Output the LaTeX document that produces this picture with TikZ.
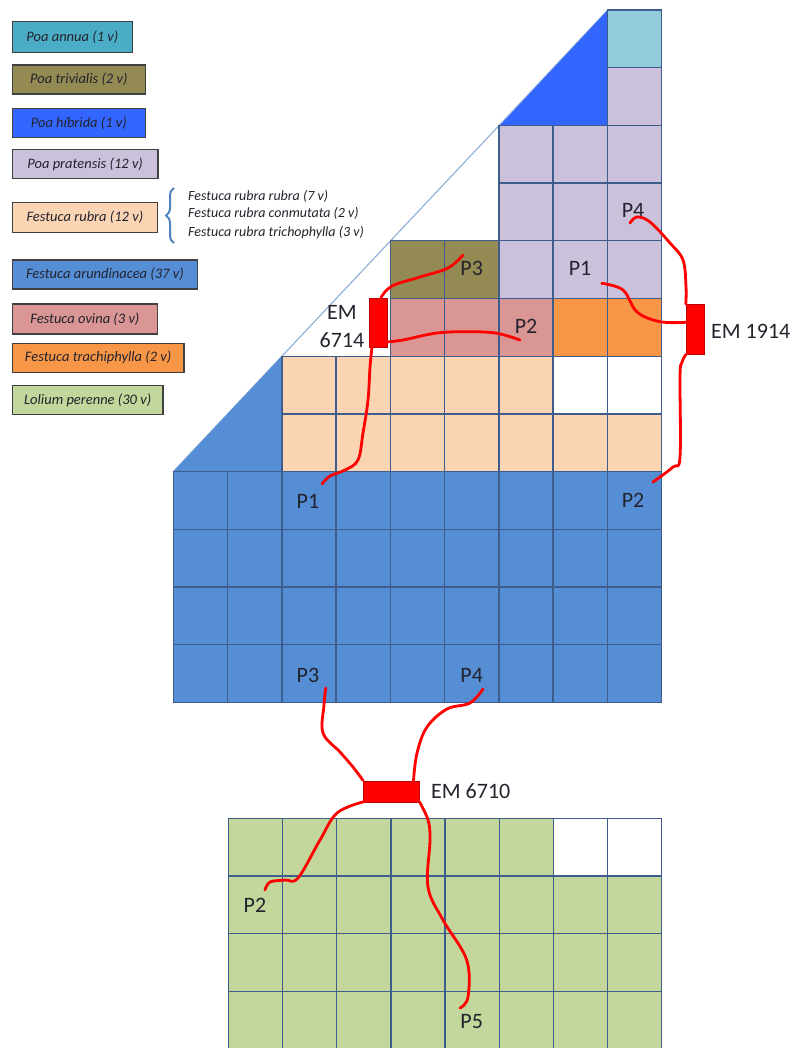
\documentclass[tikz,border=0pt]{standalone}
\usepackage{fontspec}
\setmainfont{Carlito}
\usetikzlibrary{decorations.pathreplacing}
\definecolor{cAnnua}{RGB}{75,172,198}
\definecolor{cAnnuaL}{RGB}{146,205,220}
\definecolor{cTriv}{RGB}{148,138,84}
\definecolor{cHib}{RGB}{51,102,255}
\definecolor{cPrat}{RGB}{204,193,218}
\definecolor{cRubra}{RGB}{251,212,180}
\definecolor{cArund}{RGB}{85,142,213}
\definecolor{cOvina}{RGB}{217,150,148}
\definecolor{cTrach}{RGB}{247,150,70}
\definecolor{cLol}{RGB}{195,214,155}
\definecolor{gridc}{RGB}{62,92,140}
\definecolor{hypo}{RGB}{149,179,215}
\definecolor{wirec}{RGB}{255,0,0}
\definecolor{txt}{RGB}{35,35,45}
\definecolor{legborder}{RGB}{64,64,64}
\definecolor{brc}{RGB}{79,129,189}
\tikzset{
  cellst/.style={draw=gridc, line width=1.4pt},
  legbox/.style={draw=legborder, line width=1.3pt, anchor=north west, inner sep=0pt,
    font=\fontsize{14.5}{16}\selectfont\itshape, text=txt},
  subtxt/.style={anchor=west, inner sep=0pt, font=\fontsize{14}{16}\selectfont\itshape, text=txt},
  lab/.style={inner sep=0pt, font=\fontsize{22}{28}\selectfont, text=txt},
  emrect/.style={rectangle, fill=wirec, draw=red!75!black, line width=0.4pt, inner sep=0pt},
  wire/.style={draw=wirec, line width=2.8pt, line cap=round, line join=round}
}
\newcommand\gcell[3]{\path[cellst, fill=#3] ({173.3+54.27*#1},{10+57.7*#2}) rectangle ++(54.27,57.7);}
\newcommand\lcell[3]{\path[cellst, fill=#3] ({228.3+54.18*#1},{818.3+57.7*#2}) rectangle ++(54.18,57.7);}
\begin{document}
\begin{tikzpicture}[x=1pt,y=-1pt]
\useasboundingbox (0,0) rectangle (796,1048);
% legend
\node[legbox, fill=cAnnua, minimum width=120pt, minimum height=31pt] (lg1) at (11.7,20.7) {Poa annua (1 v)};
\node[legbox, fill=cTriv, minimum width=133pt, minimum height=29pt] (lg2) at (11.7,64.3) {Poa trivialis (2 v)};
\node[legbox, fill=cHib, minimum width=133pt, minimum height=29pt] (lg3) at (11.7,107.7) {Poa híbrida (1 v)};
\node[legbox, fill=cPrat, minimum width=145.6pt, minimum height=29pt] (lg4) at (11.7,149) {Poa pratensis (12 v)};
\node[legbox, fill=cRubra, minimum width=145pt, minimum height=30pt] (lg5) at (11.7,201.7) {Festuca rubra (12 v)};
\node[legbox, fill=cArund, minimum width=185pt, minimum height=29pt] (lg6) at (11.7,259.3) {Festuca arundinacea (37 v)};
\node[legbox, fill=cOvina, minimum width=145pt, minimum height=30pt] (lg7) at (11.7,303.3) {Festuca ovina (3 v)};
\node[legbox, fill=cTrach, minimum width=171.6pt, minimum height=29pt] (lg8) at (11.7,342.7) {Festuca trachiphylla (2 v)};
\node[legbox, fill=cLol, minimum width=150.6pt, minimum height=29pt] (lg9) at (11.7,385) {Lolium perenne (30 v)};
% brace and sub-species
\draw[brc, line width=2pt, decorate, decoration={brace, amplitude=8pt, aspect=0.5}] (174,243) -- (174,188);
\node[subtxt] (s1) at (188,196) {Festuca rubra rubra (7 v)};
\node[subtxt] (s2) at (188,213.7) {Festuca rubra conmutata (2 v)};
\node[subtxt] (s3) at (188,232.3) {Festuca rubra trichophylla (3 v)};
% hypotenuse and triangles
\draw[hypo, line width=1.2pt] (607.8,10) -- (173.3,471.6);
\fill[cArund] (173.3,471.6) -- (281.8,356.2) -- (281.8,471.6) -- cycle;
\fill[cHib] (499.9,125.4) -- (607.8,10) -- (607.8,125.4) -- cycle;
% upper grid
\gcell{8}{0}{cAnnuaL}
\gcell{8}{1}{cPrat}
\foreach \c in {6,7,8} {\gcell{\c}{2}{cPrat}\gcell{\c}{3}{cPrat}\gcell{\c}{4}{cPrat}}
\foreach \c in {4,5} {\gcell{\c}{4}{cTriv}}
\foreach \c in {4,5,6} {\gcell{\c}{5}{cOvina}}
\foreach \c in {7,8} {\gcell{\c}{5}{cTrach}}
\foreach \c in {2,...,6} {\gcell{\c}{6}{cRubra}}
\foreach \c in {7,8} {\gcell{\c}{6}{white}}
\foreach \c in {2,...,8} {\gcell{\c}{7}{cRubra}}
\foreach \r in {8,...,11} {\foreach \c in {0,...,8} {\gcell{\c}{\r}{cArund}}}
% lower grid
\foreach \c in {0,...,5} {\lcell{\c}{0}{cLol}}
\foreach \c in {6,7} {\lcell{\c}{0}{white}}
\foreach \r in {1,2,3} {\foreach \c in {0,...,7} {\lcell{\c}{\r}{cLol}}}
% labels
\node[lab] (p3a) at (471.7,268) {P3};
\node[lab] (p2a) at (526,326.7) {P2};
\node[lab] (p1a) at (580,268) {P1};
\node[lab] (p4a) at (633,210) {P4};
\node[lab] (p1b) at (308,501.7) {P1};
\node[lab] (p2b) at (633,500) {P2};
\node[lab] (p3b) at (308,675) {P3};
\node[lab] (p4b) at (471.7,675) {P4};
\node[lab] (p2c) at (255,905) {P2};
\node[lab] (p5c) at (471.7,1021.7) {P5};
% EM nodes
\node[emrect, minimum width=18pt, minimum height=49pt] (em6714) at (378,322.2) {};
\node[emrect, minimum width=18pt, minimum height=50pt] (em1914) at (695,329.3) {};
\node[emrect, minimum width=56pt, minimum height=21pt] (em6710) at (391.3,791.2) {};
\node[lab, align=center] (em6714l) at (342,327) {EM\\6714};
\node[lab, anchor=west] (em1914l) at (711,331.7) {EM 1914};
\node[lab, anchor=west] (em6710l) at (431,790.7) {EM 6710};
% wire ends
\coordinate (w6714a) at (463,255);
\coordinate (w6714b) at (520,340);
\coordinate (w6714c) at (322,484);
\coordinate (w1914a) at (630,223);
\coordinate (w1914b) at (601.7,283.3);
\coordinate (w1914c) at (653,482);
\coordinate (w6710a) at (325.7,688);
\coordinate (w6710b) at (483,689);
\coordinate (w6710c) at (265,890);
\coordinate (w6710d) at (460,1008);
% wires EM 6714
\draw[wire] plot[smooth, tension=0.6] coordinates {([xshift=3pt]em6714.north) (392,286) (420,277) (448,268) (w6714a)};
\draw[wire] plot[smooth, tension=0.6] coordinates {([yshift=5pt]em6714.south east) (403,340) (437,333) (470,331.7) (497,333.3) (w6714b)};
\draw[wire] plot[smooth, tension=0.6] coordinates {([xshift=-6pt]em6714.south) (370,367) (368,400) (363,433) (358,460) (345,470) (330,476) (w6714c)};
% wires EM 1914
\draw[wire] plot[smooth, tension=0.6] coordinates {(em1914.north west) (686,287) (683,260) (670,243) (650,222) (637,217) (w1914a)};
\draw[wire] plot[smooth, tension=0.6] coordinates {([yshift=7pt]em1914.west) (660,321.7) (637,312) (623,290) (w1914b)};
\draw[wire] plot[smooth, tension=0.6] coordinates {(em1914.south west) (681.7,363) (680,377) (680,457) (673,467) (w1914c)};
% wires EM 6710
\draw[wire] plot[smooth, tension=0.6] coordinates {(w6710a) (324,705) (323,733) (340,752) (353,767) (em6710.north west)};
\draw[wire] plot[smooth, tension=0.6] coordinates {(w6710b) (470,703) (447,709) (427,727) (417,753) ([xshift=-6pt]em6710.north east)};
\draw[wire] plot[smooth, tension=0.6] coordinates {(em6710.south west) (337,813) (320,840) (298,878) (285,880) (270,882) (w6710c)};
\draw[wire] plot[smooth, tension=0.6] coordinates {(em6710.south east) (428,820) (430,840) (428,887) (443,920) (466.7,960) (468,997) (w6710d)};
\end{tikzpicture}
\end{document}
